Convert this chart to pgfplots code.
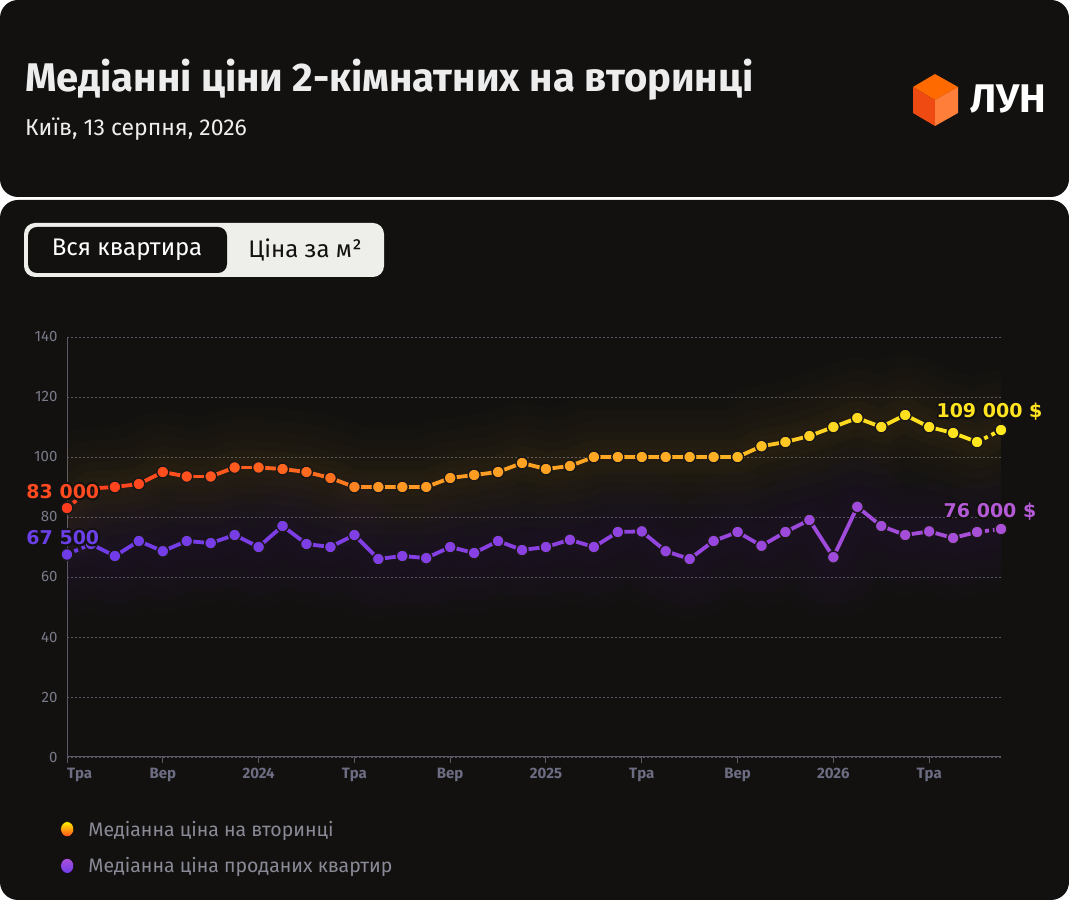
\documentclass[border=0pt]{standalone}
\usepackage{pgfplots}
\pgfplotsset{compat=1.18}
\usepackage{pgfplotstable}
\usepackage{fontspec}
\setmainfont{Fira Sans}
\newfontfamily\lblfamily{DejaVu Sans}
\usetikzlibrary{calc}
\definecolor{bg}{HTML}{121110}
\definecolor{tickgray}{HTML}{7A7A88}
\definecolor{xtickgray}{HTML}{6C6C82}
\definecolor{gridgray}{HTML}{5A5A66}
\definecolor{legendgray}{HTML}{8A8A96}
\definecolor{orlbl}{HTML}{FF4B1F}
\definecolor{yelbl}{HTML}{FFE41F}
\definecolor{pulbl}{HTML}{6B40E8}
\definecolor{pulblb}{HTML}{B45AD6}
\definecolor{cubetop}{HTML}{FF6A00}
\definecolor{cubeleft}{HTML}{EE4A12}
\definecolor{cuberight}{HTML}{FF7E3A}
\definecolor{togglebg}{HTML}{EEEEEA}
\definecolor{glowor}{HTML}{D09A1A}
\definecolor{glowpu}{HTML}{7A30B0}
\definecolor{orstart}{HTML}{FF4420}
\definecolor{orend}{HTML}{FFE41F}
\definecolor{pustart}{HTML}{6E3CE8}
\definecolor{puend}{HTML}{AA50D8}
\definecolor{markedge}{HTML}{1A1816}

\pgfplotsset{
 colormap={orcm}{rgb255(0cm)=(255,60,30); rgb255(6cm)=(255,85,30); rgb255(11cm)=(255,112,30); rgb255(13cm)=(255,150,35); rgb255(27cm)=(255,175,35); rgb255(32cm)=(255,215,32); rgb255(39cm)=(255,232,30)},
 colormap={pucm}{rgb255(0cm)=(110,60,232); rgb255(20cm)=(140,65,225); rgb255(39cm)=(170,80,215)},
 glow/.style={forget plot, draw=#1, line join=round, line cap=round, opacity=0.018},
}

\pgfplotstableread{
m v
0 83.0
1 89.5
2 90.0
3 91.0
4 95.0
5 93.5
6 93.5
7 96.5
8 96.5
9 96.0
10 95.0
11 93.0
12 90.0
13 90.0
14 90.0
15 90.0
16 93.0
17 94.0
18 95.0
19 98.0
20 96.0
21 97.0
22 100.0
23 100.0
24 100.0
25 100.0
26 100.0
27 100.0
28 100.0
29 103.6
30 105.0
31 107.0
32 110.0
33 113.0
34 110.0
35 114.0
36 110.0
37 108.0
38 105.0
39 109.0
}\tabOr

\pgfplotstableread{
m v
0 67.5
1 71.0
2 67.0
3 72.0
4 68.6
5 72.0
6 71.3
7 74.0
8 70.0
9 77.0
10 71.0
11 70.0
12 74.0
13 66.0
14 67.0
15 66.3
16 70.0
17 68.0
18 72.0
19 69.0
20 70.0
21 72.4
22 70.0
23 75.0
24 75.2
25 68.6
26 66.0
27 72.0
28 75.0
29 70.4
30 75.0
31 79.0
32 66.6
33 83.4
34 77.0
35 74.0
36 75.2
37 73.0
38 75.0
39 76.0
}\tabPu

\newcommand\lblfont{\lblfamily\bfseries\fontsize{19}{19}\selectfont}
\newcommand\halolabel[4]{%
  \foreach \dx/\dy in {2/0,-2/0,0/2,0/-2,1.45/1.45,-1.45/1.45,1.45/-1.45,-1.45/-1.45}{
    \node[anchor=#2, text=bg, font=\lblfont, inner sep=0pt] at ($(#1)+(\dx pt,\dy pt)$) {#4};}
  \node[anchor=#2, text=#3, font=\lblfont, inner sep=0pt] at (#1) {#4};
}

\begin{document}
\begin{tikzpicture}
\begin{scope}[x=1pt,y=-1pt,yshift=900pt]
\path[use as bounding box] (0,0) rectangle (1069,900);
\fill[white] (0,0) rectangle (1069,900);
\fill[bg, rounded corners=18pt] (0,0) rectangle (1069,197);
\fill[bg, rounded corners=18pt] (0,200) rectangle (1069,900);

% titles
\node[anchor=base west, inner sep=0pt, text=white!93!black, font=\bfseries\fontsize{40}{40}\selectfont] at (25,92) {Медіанні ціни 2-кімнатних на вторинці};
\node[anchor=base west, inner sep=0pt, text=white!93!black, font=\fontsize{23}{23}\selectfont] at (25,136) {Київ, 13 серпня, 2026};

% logo
\fill[cubetop] (935,74) -- (958,87) -- (935,100) -- (913,87) -- cycle;
\fill[cubeleft] (913,87) -- (935,100) -- (935,126) -- (913,113) -- cycle;
\fill[cuberight] (935,100) -- (958,87) -- (958,113) -- (935,126) -- cycle;
\node[anchor=base west, inner sep=0pt, text=white, font=\bfseries\fontsize{40}{40}\selectfont] at (970,113) {ЛУН};

% toggle
\fill[togglebg, rounded corners=11pt] (24,223) rectangle (384,277);
\fill[bg, rounded corners=9pt] (28,227) rectangle (227,273);
\node[text=white, font=\fontsize{24}{24}\selectfont] at (127,250) {Вся квартира};
\node[text=bg, font=\fontsize{24}{24}\selectfont] at (305,250) {Ціна за м²};
\end{scope}

\begin{axis}[
  at={(67pt,143pt)}, anchor=south west,
  scale only axis, width=934pt, height=420pt,
  xmin=0, xmax=39, ymin=0, ymax=140,
  axis lines*=left,
  axis line style={-, draw=gridgray, line width=1pt},
  ytick={0,20,...,140},
  xtick={0,4,...,36},
  xticklabels={\makebox[0pt][l]{Тра},Вер,2024,Тра,Вер,2025,Тра,Вер,2026,Тра},
  ymajorgrids,
  grid style={draw=gridgray, dash pattern=on 2pt off 2pt, line width=0.8pt},
  ytick style={draw=none},
  xtick style={draw=gridgray, line width=1pt},
  tick align=outside, major tick length=6pt,
  yticklabel style={font=\fontsize{15}{15}\selectfont, text=tickgray},
  xticklabel style={font=\bfseries\fontsize{15}{15}\selectfont, text=xtickgray, yshift=-2pt},
  /pgf/number format/assume math mode=true,
  point meta min=0, point meta max=39,
  clip mode=individual,
  legend style={at={(axis description cs:-0.012,-0.142)}, anchor=north west,
    draw=none, fill=none, font=\fontsize{19.5}{21}\selectfont, text=legendgray,
    row sep=16pt, nodes={inner sep=2pt}},
  legend cell align=left,
]
% glow
\addplot[glow=glowor, line width=120pt] table {\tabOr};
\addplot[glow=glowor, line width=95pt] table {\tabOr};
\addplot[glow=glowor, line width=72pt] table {\tabOr};
\addplot[glow=glowor, line width=52pt] table {\tabOr};
\addplot[glow=glowor, line width=34pt] table {\tabOr};
\addplot[glow=glowor, line width=20pt] table {\tabOr};
\addplot[glow=glowpu, line width=120pt] table {\tabPu};
\addplot[glow=glowpu, line width=95pt] table {\tabPu};
\addplot[glow=glowpu, line width=72pt] table {\tabPu};
\addplot[glow=glowpu, line width=52pt] table {\tabPu};
\addplot[glow=glowpu, line width=34pt] table {\tabPu};
\addplot[glow=glowpu, line width=20pt] table {\tabPu};

% orange series
\addplot[forget plot, mesh, colormap name=orcm, point meta=x, line width=3.8pt, line cap=round, restrict x to domain=1:38] table {\tabOr};
\addplot[forget plot, draw=orstart, line width=3.8pt, dash pattern=on 4pt off 4pt, restrict x to domain=0:1] table {\tabOr};
\addplot[forget plot, draw=orend, line width=3.8pt, dash pattern=on 4pt off 4pt, restrict x to domain=38:39] table {\tabOr};
\addplot[forget plot, only marks, scatter, scatter src=x, colormap name=orcm, mark=*, mark size=6pt,
  scatter/use mapped color={draw=markedge, fill=mapped color}, mark options={line width=1.4pt}] table {\tabOr};

% purple series
\addplot[forget plot, mesh, colormap name=pucm, point meta=x, line width=3.8pt, line cap=round, restrict x to domain=1:38] table {\tabPu};
\addplot[forget plot, draw=pustart, line width=3.8pt, dash pattern=on 4pt off 4pt, restrict x to domain=0:1] table {\tabPu};
\addplot[forget plot, draw=puend, line width=3.8pt, dash pattern=on 4pt off 4pt, restrict x to domain=38:39] table {\tabPu};
\addplot[forget plot, only marks, scatter, scatter src=x, colormap name=pucm, mark=*, mark size=6pt,
  scatter/use mapped color={draw=markedge, fill=mapped color}, mark options={line width=1.4pt}] table {\tabPu};

\addlegendimage{legend image code/.code={\path (0pt,0pt) (27pt,0pt); \shade[top color=yellow!90!orange, bottom color=orlbl] (8pt,0pt) circle[x radius=6.5pt, y radius=7.5pt];}}
\addlegendentry{Медіанна ціна на вторинці}
\addlegendimage{legend image code/.code={\path (0pt,0pt) (27pt,0pt); \shade[top color=puend, bottom color=pustart] (8pt,0pt) circle[x radius=6.5pt, y radius=7.5pt];}}
\addlegendentry{Медіанна ціна проданих квартир}

\coordinate (L1) at (axis cs:-1.70,88.4);
\coordinate (L2) at (axis cs:-1.70,73.0);
\coordinate (L3) at (axis cs:36.3,115.0);
\coordinate (L4) at (axis cs:36.6,81.7);
\end{axis}

\halolabel{L1}{west}{orlbl}{83 000}
\halolabel{L2}{west}{pulbl}{67 500}
\halolabel{L3}{west}{yelbl}{109 000 \$}
\halolabel{L4}{west}{pulblb}{76 000 \$}
\end{tikzpicture}
\end{document}
